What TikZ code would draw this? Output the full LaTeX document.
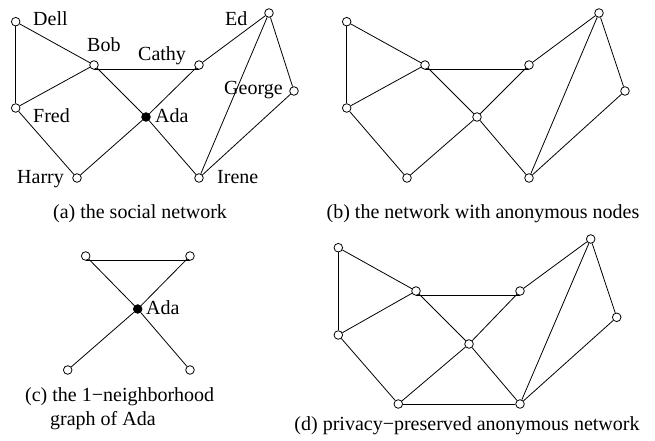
\documentclass[tikz,border=0pt]{standalone}
\usepackage{fontspec}
\setmainfont{Liberation Serif}
\begin{document}
\begin{tikzpicture}[x=1pt,y=-1pt,
  vtx/.style={circle,draw,fill=white,inner sep=0pt,minimum size=8.6pt,line width=0.8pt},
  blk/.style={circle,draw,fill=black,inner sep=0pt,minimum size=8.6pt,line width=0.8pt},
  edge/.style={line width=0.8pt},
  lbl/.style={anchor=base west,inner sep=0pt,font=\fontsize{20}{24}\selectfont},
  captxt/.style={anchor=base,inner sep=0pt,font=\fontsize{20}{24}\selectfont}]
\useasboundingbox (0,0) rectangle (655,441);
% ---------- panel (a)
\node[vtx] (aDell) at (15.7,21.7) {};
\node[vtx] (aBob) at (94,65) {};
\node[vtx] (aCathy) at (199,65) {};
\node[vtx] (aEd) at (269,13) {};
\node[vtx] (aGeorge) at (294,91) {};
\node[vtx] (aFred) at (15.7,108) {};
\node[blk] (aAda) at (146,117) {};
\node[vtx] (aHarry) at (77,178) {};
\node[vtx] (aIrene) at (199,178) {};
% ---------- panel (b)
\begin{scope}[shift={(331,0)}]
\node[vtx] (bDell) at (15.7,21.7) {};
\node[vtx] (bBob) at (94,65) {};
\node[vtx] (bCathy) at (198,65) {};
\node[vtx] (bEd) at (268,13) {};
\node[vtx] (bGeorge) at (294,91) {};
\node[vtx] (bFred) at (15.7,108) {};
\node[vtx] (bAda) at (146,117) {};
\node[vtx] (bHarry) at (76,178) {};
\node[vtx] (bIrene) at (198,178) {};
\end{scope}
% ---------- panel (c)
\node[vtx] (cBob) at (85.7,256) {};
\node[vtx] (cCathy) at (190,256) {};
\node[blk] (cAda) at (137.7,309) {};
\node[vtx] (cHarry) at (67.7,370) {};
\node[vtx] (cIrene) at (190,370) {};
% ---------- panel (d)
\node[vtx] (dDell) at (338.3,247.7) {};
\node[vtx] (dBob) at (416,291) {};
\node[vtx] (dCathy) at (520,291) {};
\node[vtx] (dEd) at (590.7,239) {};
\node[vtx] (dGeorge) at (616.7,317.3) {};
\node[vtx] (dFred) at (338.3,335) {};
\node[vtx] (dAda) at (469,344) {};
\node[vtx] (dHarry) at (398.3,404) {};
\node[vtx] (dIrene) at (520,404) {};
% ---------- edges
\foreach \p in {a,b,d}{
  \draw[edge] (\p Dell) -- (\p Bob);
  \draw[edge] (\p Dell) -- (\p Fred);
  \draw[edge] (\p Bob.south) -- (\p Cathy.south);
  \draw[edge] (\p Bob) -- (\p Fred);
  \draw[edge] (\p Bob) -- (\p Ada);
  \draw[edge] (\p Cathy) -- (\p Ed);
  \draw[edge] (\p Cathy) -- (\p Ada);
  \draw[edge] (\p Ed) -- (\p Irene);
  \draw[edge] (\p Ed) -- (\p George);
  \draw[edge] (\p George) -- (\p Irene);
  \draw[edge] (\p Fred) -- (\p Harry);
  \draw[edge] (\p Ada) -- (\p Harry);
  \draw[edge] (\p Ada) -- (\p Irene);
}
\draw[edge] (dHarry) -- (dIrene);
\draw[edge] (cBob.south) -- (cCathy.south);
\draw[edge] (cBob) -- (cAda);
\draw[edge] (cCathy) -- (cAda);
\draw[edge] (cAda) -- (cHarry);
\draw[edge] (cAda) -- (cIrene);
% ---------- labels
\node[lbl] (lDell) at (33,26) {Dell};
\node[lbl] (lBob) at (87,52) {Bob};
\node[lbl] (lCathy) at (138,61) {Cathy};
\node[lbl] (lEd) at (225,26) {Ed};
\node[lbl] (lGeorge) at (224,95) {George};
\node[lbl] (lFred) at (33,122) {Fred};
\node[lbl] (lAda) at (155,122) {Ada};
\node[lbl] (lHarry) at (17,183) {Harry};
\node[lbl] (lIrene) at (217,183) {Irene};
\node[lbl] (lAdaC) at (146,314) {Ada};
% ---------- captions
\node[captxt] (capA) at (140,218) {(a) the social network};
\node[captxt] (capB) at (483,218) {(b) the network with anonymous nodes};
\node[lbl] (capC1) at (25,401) {(c) the 1−neighborhood};
\node[lbl] (capC2) at (50,425) {graph of Ada};
\node[captxt] (capD) at (467,430) {(d) privacy−preserved anonymous network};
\end{tikzpicture}
\end{document}
